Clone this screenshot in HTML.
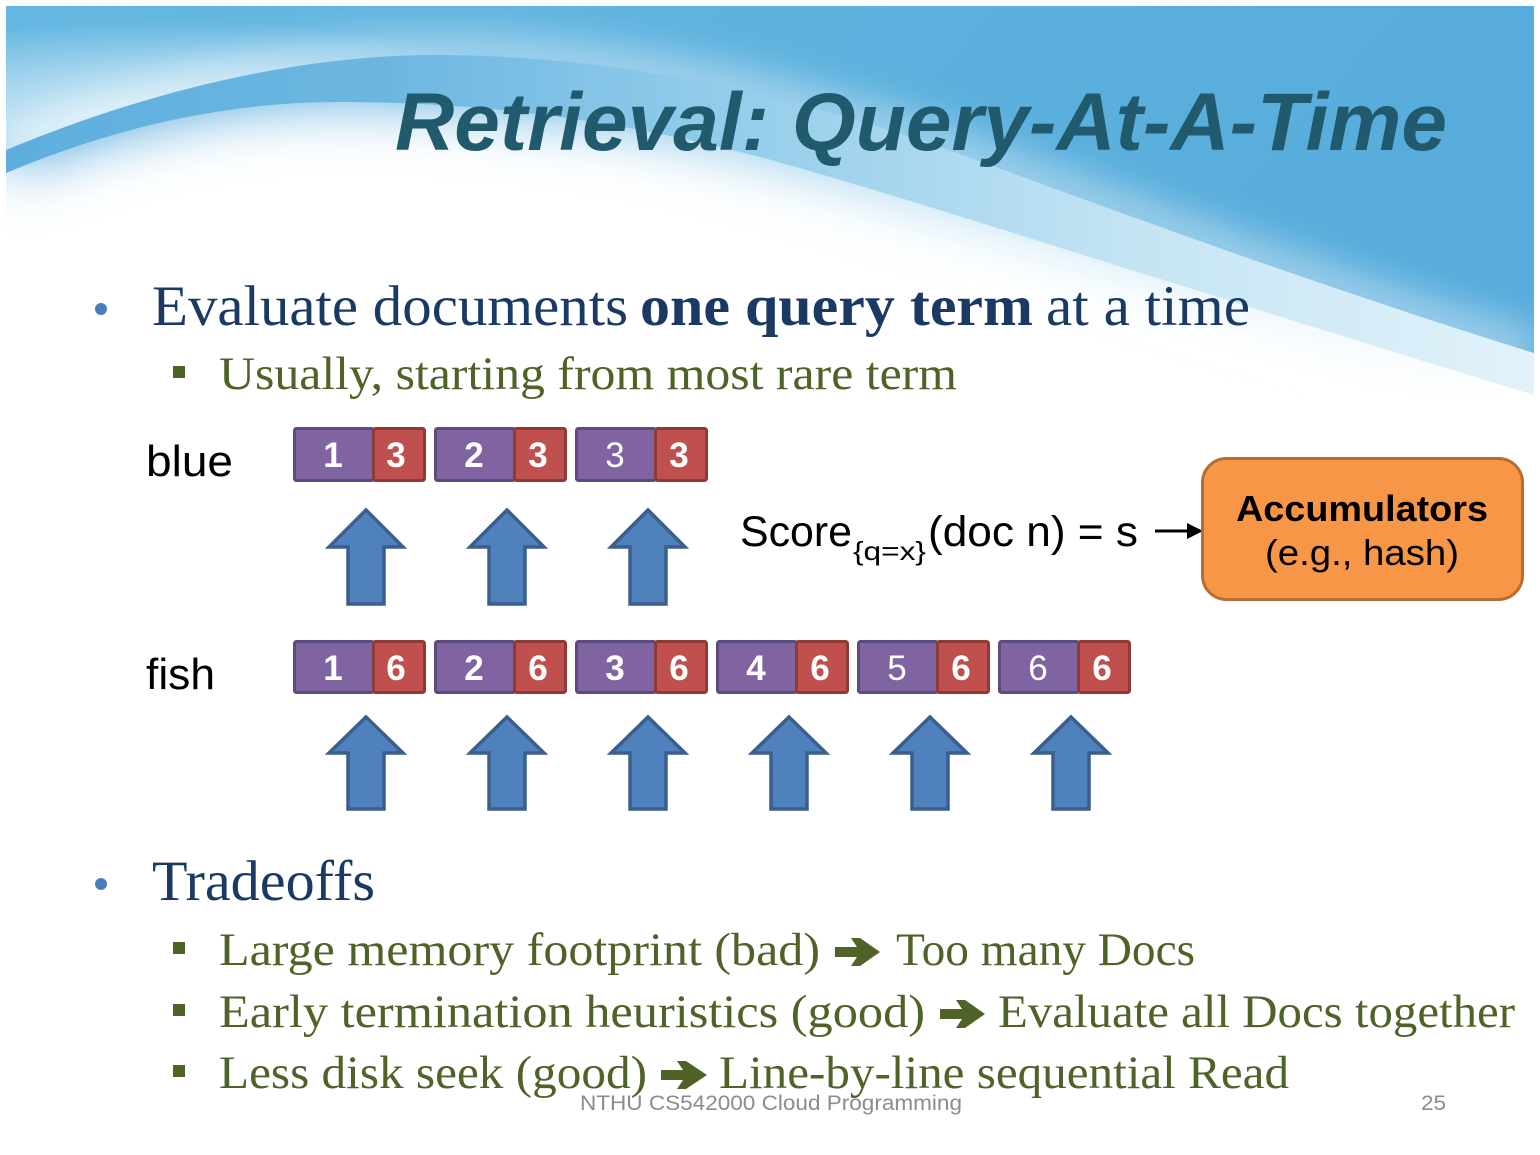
<!DOCTYPE html>
<html><head><meta charset="utf-8"><style>
html,body{margin:0;padding:0;background:#fff;}
svg{display:block;}
.serif{font-family:"Liberation Serif",serif;}
.sans{font-family:"Liberation Sans",sans-serif;}
</style></head><body>
<svg width="1540" height="1155" viewBox="0 0 1540 1155" xmlns="http://www.w3.org/2000/svg">
<defs>
  <clipPath id="slide"><rect x="6" y="6" width="1528" height="1143"/></clipPath>
  <clipPath id="skyclip"><path d="M6,6 H1534 V353 C1300,280 1100,205 949,150 C780,90 600,55 436,55 C300,55 150,90 6,150 Z"/></clipPath>
  <filter id="blur" x="-20%" y="-20%" width="140%" height="180%"><feGaussianBlur stdDeviation="30"/></filter>
  <filter id="blur2" x="-20%" y="-50%" width="140%" height="200%"><feGaussianBlur stdDeviation="18"/></filter>
  <linearGradient id="fadeG" x1="0" y1="0" x2="1" y2="0">
    <stop offset="0" stop-color="#4fa5d8"/>
    <stop offset="0.35" stop-color="#65b3e0"/>
    <stop offset="0.65" stop-color="#c3e4f4"/>
    <stop offset="1" stop-color="#ffffff"/>
  </linearGradient>
  <linearGradient id="bandG" x1="0" y1="0" x2="1" y2="0">
    <stop offset="0" stop-color="#5eaedd"/>
    <stop offset="0.25" stop-color="#6cb7e1"/>
    <stop offset="0.5" stop-color="#98cfec"/>
    <stop offset="0.75" stop-color="#c6e5f4"/>
    <stop offset="1" stop-color="#e2f2fa"/>
  </linearGradient>
  <linearGradient id="skyG" x1="0" y1="0" x2="1" y2="0.2">
    <stop offset="0" stop-color="#66b8e2"/>
    <stop offset="0.5" stop-color="#5eb2de"/>
    <stop offset="1" stop-color="#57acdb"/>
  </linearGradient>
  <radialGradient id="glowG" cx="0.5" cy="0.5" r="0.5">
    <stop offset="0" stop-color="#ffffff" stop-opacity="0.85"/>
    <stop offset="0.6" stop-color="#ffffff" stop-opacity="0.4"/>
    <stop offset="1" stop-color="#ffffff" stop-opacity="0"/>
  </radialGradient>
</defs>

<!-- background -->
<rect x="0" y="0" width="1540" height="1155" fill="#ffffff"/>
<g clip-path="url(#slide)">
  <path filter="url(#blur)" fill="url(#fadeG)" d="M6,6 H1534 V395 C1100,262 900,195 760,157 C620,120 480,102 340,102 C230,102 120,125 6,173 Z"/>
  <path fill="url(#bandG)" d="M6,6 H1534 V395 C1100,262 900,195 760,157 C620,120 480,102 340,102 C230,102 120,125 6,173 Z"/>
  <path fill="url(#skyG)" d="M6,6 H1534 V353 C1300,280 1100,205 949,150 C780,90 600,55 436,55 C300,55 150,90 6,150 Z"/>
  <g clip-path="url(#skyclip)">
    <ellipse cx="170" cy="135" rx="430" ry="115" fill="url(#glowG)"/>
    <path d="M6,150 C150,90 300,55 436,55 C600,55 780,90 949,150 C1100,205 1300,280 1534,353" fill="none" stroke="#ffffff" stroke-opacity="0.45" stroke-width="40" filter="url(#blur2)"/>
  </g>
</g>

<!-- title -->
<text x="395" y="150" class="sans" font-size="82" font-weight="bold" font-style="italic" fill="#215a6c" textLength="1052" lengthAdjust="spacingAndGlyphs">Retrieval: Query-At-A-Time</text>

<!-- bullet 1 -->
<circle cx="101" cy="309" r="6" fill="#4a7ebb"/>
<text x="152" y="325" class="serif" font-size="57" fill="#1b3a63" textLength="476" lengthAdjust="spacingAndGlyphs">Evaluate documents</text>
<text x="640" y="325" class="serif" font-size="57" font-weight="bold" fill="#1b3a63" textLength="393" lengthAdjust="spacingAndGlyphs">one query term</text>
<text x="1046" y="325" class="serif" font-size="57" fill="#1b3a63" textLength="204" lengthAdjust="spacingAndGlyphs">at a time</text>

<rect x="173" y="366" width="12" height="12" fill="#4f6228"/>
<text x="219" y="389" class="serif" font-size="47" fill="#4f6228" textLength="738" lengthAdjust="spacingAndGlyphs">Usually, starting from most rare term</text>

<!-- labels -->
<text x="146" y="476" class="sans" font-size="44" fill="#000" textLength="87" lengthAdjust="spacingAndGlyphs">blue</text>
<text x="146" y="689" class="sans" font-size="44" fill="#000" textLength="69" lengthAdjust="spacingAndGlyphs">fish</text>

<!-- blue row boxes -->
<g class="sans" font-size="35" fill="#fff" text-anchor="middle">
  <rect x="294.5" y="428.5" width="79" height="52" rx="2" fill="#8064a2" stroke="#5d4a7e" stroke-width="3"/>
  <rect x="373.5" y="428.5" width="51" height="52" rx="2" fill="#c0504d" stroke="#8f3a37" stroke-width="3"/>
  <text x="333" y="467" font-weight="bold">1</text>
  <text x="396" y="467" font-weight="bold">3</text>
  <rect x="435.5" y="428.5" width="79" height="52" rx="2" fill="#8064a2" stroke="#5d4a7e" stroke-width="3"/>
  <rect x="514.5" y="428.5" width="51" height="52" rx="2" fill="#c0504d" stroke="#8f3a37" stroke-width="3"/>
  <text x="474" y="467" font-weight="bold">2</text>
  <text x="538" y="467" font-weight="bold">3</text>
  <rect x="576.5" y="428.5" width="79" height="52" rx="2" fill="#8064a2" stroke="#5d4a7e" stroke-width="3"/>
  <rect x="655.5" y="428.5" width="51" height="52" rx="2" fill="#c0504d" stroke="#8f3a37" stroke-width="3"/>
  <text x="615" y="467">3</text>
  <text x="679" y="467" font-weight="bold">3</text>
</g>

<!-- fish row boxes -->
<g class="sans" font-size="35" fill="#fff" text-anchor="middle">
  <rect x="294.5" y="641.5" width="79" height="51" rx="2" fill="#8064a2" stroke="#5d4a7e" stroke-width="3"/>
  <rect x="373.5" y="641.5" width="51" height="51" rx="2" fill="#c0504d" stroke="#8f3a37" stroke-width="3"/>
  <text x="333" y="680" font-weight="bold">1</text>
  <text x="396" y="680" font-weight="bold">6</text>

  <rect x="435.5" y="641.5" width="79" height="51" rx="2" fill="#8064a2" stroke="#5d4a7e" stroke-width="3"/>
  <rect x="514.5" y="641.5" width="51" height="51" rx="2" fill="#c0504d" stroke="#8f3a37" stroke-width="3"/>
  <text x="474" y="680" font-weight="bold">2</text>
  <text x="538" y="680" font-weight="bold">6</text>

  <rect x="576.5" y="641.5" width="79" height="51" rx="2" fill="#8064a2" stroke="#5d4a7e" stroke-width="3"/>
  <rect x="655.5" y="641.5" width="51" height="51" rx="2" fill="#c0504d" stroke="#8f3a37" stroke-width="3"/>
  <text x="615" y="680" font-weight="bold">3</text>
  <text x="679" y="680" font-weight="bold">6</text>

  <rect x="717.5" y="641.5" width="79" height="51" rx="2" fill="#8064a2" stroke="#5d4a7e" stroke-width="3"/>
  <rect x="796.5" y="641.5" width="51" height="51" rx="2" fill="#c0504d" stroke="#8f3a37" stroke-width="3"/>
  <text x="756" y="680" font-weight="bold">4</text>
  <text x="820" y="680" font-weight="bold">6</text>

  <rect x="858.5" y="641.5" width="79" height="51" rx="2" fill="#8064a2" stroke="#5d4a7e" stroke-width="3"/>
  <rect x="937.5" y="641.5" width="51" height="51" rx="2" fill="#c0504d" stroke="#8f3a37" stroke-width="3"/>
  <text x="897" y="680">5</text>
  <text x="961" y="680" font-weight="bold">6</text>

  <rect x="999.5" y="641.5" width="79" height="51" rx="2" fill="#8064a2" stroke="#5d4a7e" stroke-width="3"/>
  <rect x="1078.5" y="641.5" width="51" height="51" rx="2" fill="#c0504d" stroke="#8f3a37" stroke-width="3"/>
  <text x="1038" y="680">6</text>
  <text x="1102" y="680" font-weight="bold">6</text>
</g>

<!-- block up arrows -->
<g fill="#4f81bd" stroke="#3a5f8c" stroke-width="3.5" stroke-linejoin="miter">
  <polygon points="366,510 403,547 384,547 384,604 348,604 348,547 329,547"/>
  <polygon points="507,510 544,547 525,547 525,604 489,604 489,547 470,547"/>
  <polygon points="648,510 685,547 666,547 666,604 630,604 630,547 611,547"/>

  <polygon points="366,717 403,753 384,753 384,809 348,809 348,753 329,753"/>
  <polygon points="507,717 544,753 525,753 525,809 489,809 489,753 470,753"/>
  <polygon points="648,717 685,753 666,753 666,809 630,809 630,753 611,753"/>
  <polygon points="789,717 826,753 807,753 807,809 771,809 771,753 752,753"/>
  <polygon points="930,717 967,753 948,753 948,809 912,809 912,753 893,753"/>
  <polygon points="1071,717 1108,753 1089,753 1089,809 1053,809 1053,753 1034,753"/>
</g>

<!-- score -->
<text x="740" y="546" class="sans" font-size="43" fill="#000" textLength="112" lengthAdjust="spacingAndGlyphs">Score</text>
<text x="853" y="560" class="sans" font-size="26" fill="#000" textLength="73" lengthAdjust="spacingAndGlyphs">{q=x}</text>
<text x="928" y="546" class="sans" font-size="43" fill="#000" textLength="210" lengthAdjust="spacingAndGlyphs">(doc n) = s</text>
<line x1="1155" y1="531" x2="1192" y2="531" stroke="#000" stroke-width="3"/>
<polygon points="1187,523 1203,531 1187,539" fill="#000"/>

<!-- accumulators -->
<rect x="1202.5" y="458.5" width="320" height="141" rx="24" ry="24" fill="#f79646" stroke="#b66d31" stroke-width="3"/>
<text x="1362" y="521" class="sans" font-size="36" font-weight="bold" fill="#000" text-anchor="middle" textLength="252" lengthAdjust="spacingAndGlyphs">Accumulators</text>
<text x="1362" y="565" class="sans" font-size="36" fill="#000" text-anchor="middle" textLength="194" lengthAdjust="spacingAndGlyphs">(e.g., hash)</text>

<!-- tradeoffs -->
<circle cx="101" cy="884" r="6" fill="#4a7ebb"/>
<text x="152" y="900" class="serif" font-size="57" fill="#1b3a63" textLength="223" lengthAdjust="spacingAndGlyphs">Tradeoffs</text>

<g class="serif" font-size="47" fill="#4f6228">
  <rect x="173" y="942" width="12" height="12"/>
  <text x="219" y="965" textLength="601" lengthAdjust="spacingAndGlyphs">Large memory footprint (bad)</text>
  <polygon points="835,947 857,947 851,938 860,938 880,952 860,966 851,966 857,957 835,957"/>
  <text x="896" y="965" textLength="299" lengthAdjust="spacingAndGlyphs">Too many Docs</text>

  <rect x="173" y="1004" width="12" height="12"/>
  <text x="219" y="1027" textLength="706" lengthAdjust="spacingAndGlyphs">Early termination heuristics (good)</text>
  <polygon points="940,1009 962,1009 956,1000 965,1000 985,1014 965,1028 956,1028 962,1019 940,1019"/>
  <text x="998" y="1027" textLength="517" lengthAdjust="spacingAndGlyphs">Evaluate all Docs together</text>

  <rect x="173" y="1065" width="12" height="12"/>
  <text x="219" y="1088" textLength="428" lengthAdjust="spacingAndGlyphs">Less disk seek (good)</text>
  <polygon points="661,1070 683,1070 677,1061 686,1061 707,1075 686,1089 677,1089 683,1080 661,1080"/>
  <text x="719" y="1088" textLength="570" lengthAdjust="spacingAndGlyphs">Line-by-line sequential Read</text>
</g>

<!-- footer -->
<text x="580" y="1110" class="sans" font-size="21" fill="#8c8c8c" textLength="382" lengthAdjust="spacingAndGlyphs">NTHU CS542000 Cloud Programming</text>
<text x="1421" y="1110" class="sans" font-size="21" fill="#8c8c8c" textLength="25" lengthAdjust="spacingAndGlyphs">25</text>
</svg>
</body></html>
